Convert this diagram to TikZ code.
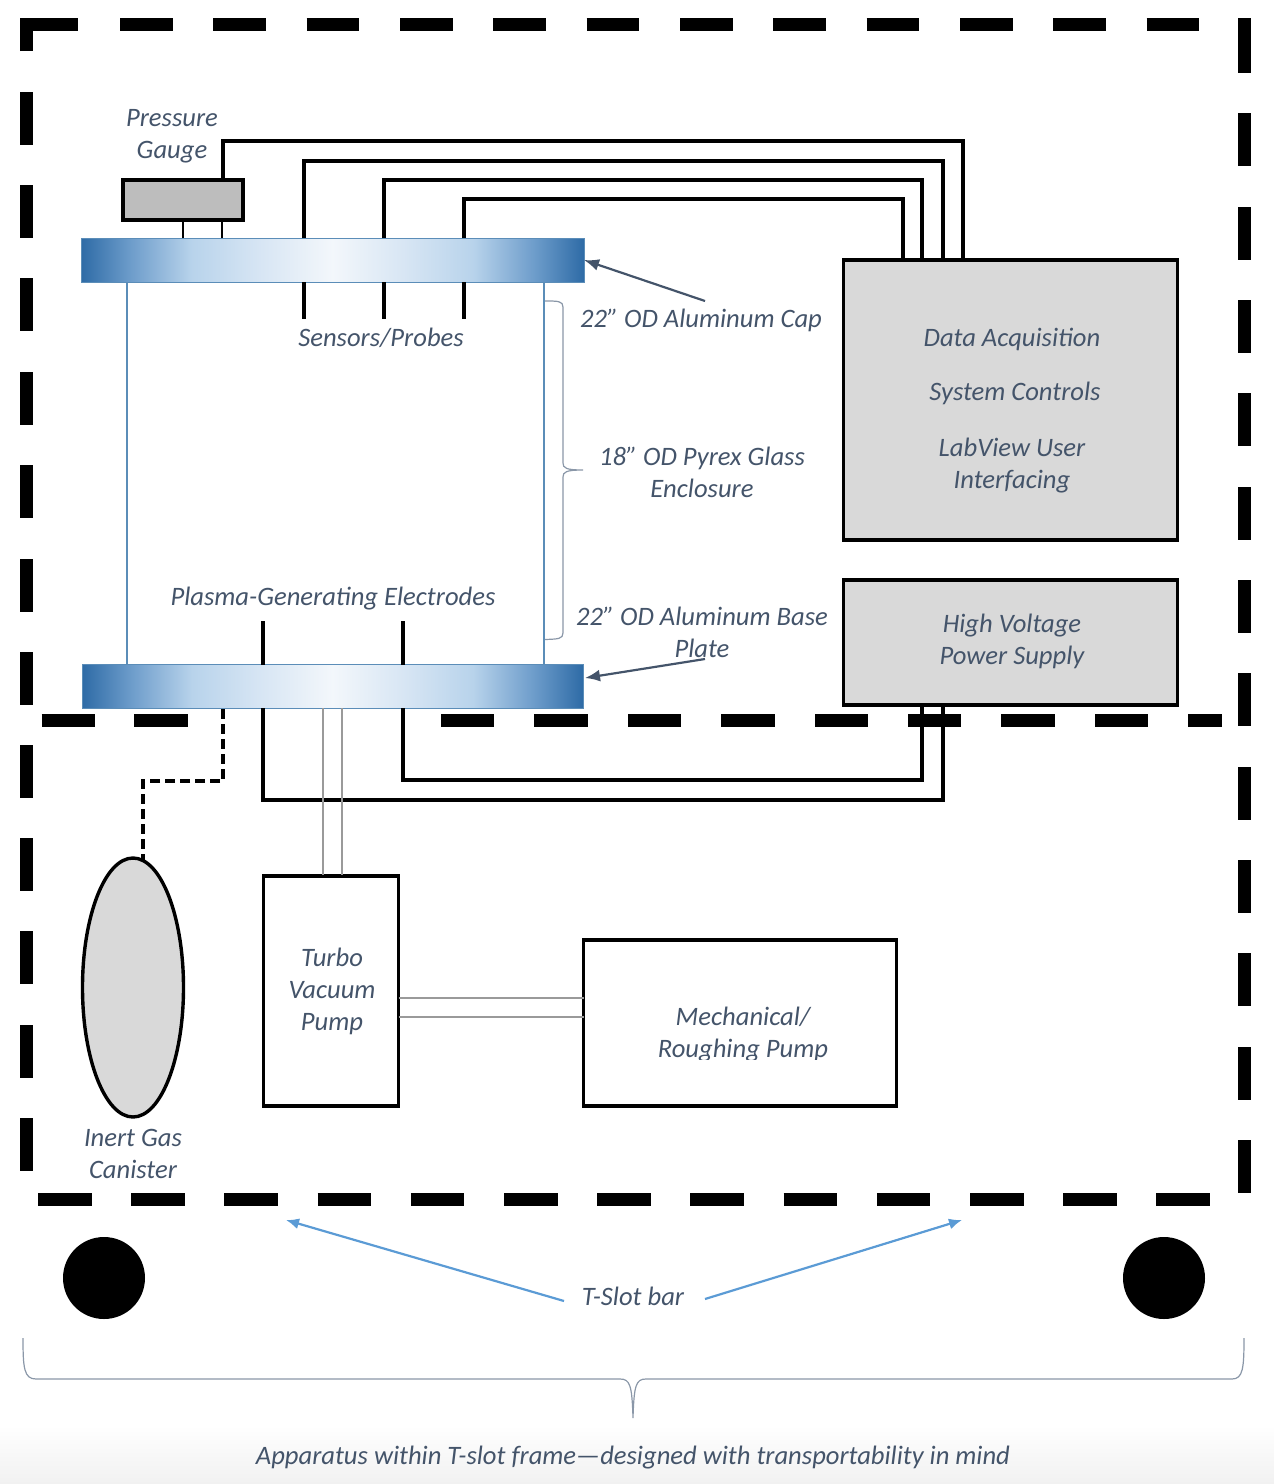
\documentclass[tikz,border=0pt]{standalone}
\usepackage{fontspec}
\setmainfont{Carlito}
\usetikzlibrary{shapes.geometric,arrows.meta}
\definecolor{slate}{HTML}{44546A}
\definecolor{plateEdge}{HTML}{2E6BA6}
\definecolor{plateA}{HTML}{6E9DCB}
\definecolor{plateMid}{HTML}{B8D3EB}
\definecolor{plateB}{HTML}{D8E6F4}
\definecolor{plateCore}{HTML}{F3F7FB}
\definecolor{glass}{HTML}{5B8DB8}
\definecolor{skyarrow}{HTML}{5B9BD5}
\definecolor{boxgray}{HTML}{D9D9D9}
\definecolor{gaugegray}{HTML}{BDBDBD}
\definecolor{tube}{HTML}{9A9A9A}
\definecolor{bracegray}{HTML}{8A97A8}
\definecolor{fadegray}{HTML}{F1F1F1}
\pgfdeclarehorizontalshading{plateshade}{100bp}{color(0bp)=(plateEdge); color(25bp)=(plateEdge); color(30bp)=(plateA); color(36bp)=(plateMid); color(43bp)=(plateB); color(50bp)=(plateCore); color(57bp)=(plateB); color(64bp)=(plateMid); color(70bp)=(plateA); color(75bp)=(plateEdge); color(100bp)=(plateEdge)}
\tikzset{
  x=1pt,y=-1pt,
  framebar/.style={line width=13pt,black,line cap=butt,miter limit=10},
  wire/.style={line width=3.4pt,black,line join=miter},
  thinwire/.style={line width=2pt,black},
  tubeline/.style={line width=2pt,tube},
  glassline/.style={line width=2pt,glass},
  box/.style={draw=black,line width=3.4pt,inner sep=0pt,outer sep=0pt},
  plate/.style={draw=glass,line width=1pt,shading=plateshade,inner sep=0pt,outer sep=0pt,minimum height=44pt},
  lbl/.style={font=\fontsize{26.6}{30}\selectfont\itshape,text=slate,inner sep=0pt,text height=22pt,text depth=6pt,anchor=center},
  callout/.style={line width=2.2pt,slate,-{Latex[length=15pt,width=12pt]}},
  skycall/.style={line width=2.2pt,skyarrow,-{Latex[length=13pt,width=11pt]}},
  bracket/.style={line width=1.2pt,bracegray},
}
\begin{document}
\begin{tikzpicture}
\useasboundingbox (0,0) rectangle (1274,1484);
\shade[top color=white,bottom color=fadegray,draw=none] (0,1425) rectangle (1274,1484);

% frame: T-slot bars
\draw[framebar] (26,51) -- (26,24) -- (78,24);
\foreach \a in {120,213.3,306.6,400,493.3,586.6,680,773.3,866.6,960,1053.3,1146.6}
  \draw[framebar] (\a,24) -- ++(52.5,0);
\foreach \a in {92,185,278,372,465,559,652,745,838,931,1025,1118}
  \draw[framebar] (26,\a) -- ++(0,53);
\foreach \a in {113,207,300,393,487,580,673,767,860,953,1047,1140}
  \draw[framebar] (1244,\a) -- ++(0,52.5);
\draw[framebar] (1244,18) -- (1244,73);
\foreach \a/\b in {41.5/95,134/188,441/494,534/588,628/681,721/775,815/868,908/961,1001/1055,1095/1148,1188/1222}
  \draw[framebar] (\a,720) -- (\b,720);
\foreach \a in {38,131.2,224.4,317.6,410.8,504,597.2,690.4,783.6,876.8,970,1063.2,1156.4}
  \draw[framebar] (\a,1199.5) -- ++(53.5,0);

% boxes and plates
\node[plate,minimum width=503pt] (cap) at (332.5,260) {};
\node[plate,minimum width=501pt] (base) at (332.5,686.5) {};
\node[box,fill=gaugegray,minimum width=120pt,minimum height=40pt] (gauge) at (183,200) {};
\node[box,fill=boxgray,minimum width=334pt,minimum height=280pt] (daq) at (1010.5,400) {};
\node[box,fill=boxgray,minimum width=334pt,minimum height=125pt] (hv) at (1010.5,642.5) {};
\node[box,minimum width=135pt,minimum height=230pt] (turbo) at (331,991) {};
\node[box,minimum width=313pt,minimum height=166pt] (mech) at (740,1023) {};
\node[box,fill=boxgray,ellipse,minimum width=101pt,minimum height=259pt] (canister) at (133,987.5) {};
\node[circle,fill=black,inner sep=0pt,minimum size=82pt] (wheelL) at (104,1278) {};
\node[circle,fill=black,inner sep=0pt,minimum size=82pt] (wheelR) at (1164,1278) {};

% glass enclosure
\draw[glassline] (cap.south -| 127,0) -- (base.north -| 127,0);
\draw[glassline] (cap.south -| 544,0) -- (base.north -| 544,0);

% port coordinates
\coordinate (gW) at (223,180);
\coordinate (pA) at (304,238);
\coordinate (pB) at (384,238);
\coordinate (pC) at (464,238);
\coordinate (dW) at (963,260);
\coordinate (dA) at (943,260);
\coordinate (dB) at (922,260);
\coordinate (dC) at (903,260);
\coordinate (tipA) at (304,319);
\coordinate (tipB) at (384,319);
\coordinate (tipC) at (464,319);
\coordinate (eA) at (263,621);
\coordinate (eB) at (403,621);
\coordinate (eAb) at (263,708);
\coordinate (eBb) at (403,708);
\coordinate (hA) at (943,705);
\coordinate (hB) at (922,705);

% data wires
\draw[wire] (gW) -- (223,141) -- (963,141) -- (dW);
\draw[wire] (pA) -- (304,161) -- (943,161) -- (dA);
\draw[wire] (pB) -- (384,180) -- (922,180) -- (dB);
\draw[wire] (pC) -- (464,199) -- (903,199) -- (dC);
\draw[wire] (304,282) -- (tipA);
\draw[wire] (384,282) -- (tipB);
\draw[wire] (464,282) -- (tipC);
\draw[thinwire] (183,220) -- (183,238);
\draw[thinwire] (222,220) -- (222,238);

% electrodes
\draw[wire] (eA) -- (263,665);
\draw[wire] (eB) -- (403,665);
\draw[wire] (eAb) -- (263,800) -- (943,800) -- (hA);
\draw[wire] (eBb) -- (403,780) -- (922,780) -- (hB);

% gas line
\draw[line width=3.2pt,black,dash pattern=on 10pt off 5pt] (223,709) -- (223,781) -- (143,781) -- (143,860);

% vacuum tubes
\draw[tubeline] (323,708) -- (323,875);
\draw[tubeline] (342,708) -- (342,875);
\draw[tubeline] (turbo.east |- 0,998) -- (mech.west |- 0,998);
\draw[tubeline] (turbo.east |- 0,1017) -- (mech.west |- 0,1017);

% brace (pyrex)
\draw[bracket] (545,301) .. controls (558,301) and (563,301) .. (563,307) -- (563,463)
  .. controls (563,468) and (566,470) .. (583,470)
  .. controls (566,470) and (563,472) .. (563,477) -- (563,633)
  .. controls (563,639) and (558,639) .. (545,639.5);

% big brace
\draw[bracket] (23,1338) .. controls (23,1368) and (24,1379) .. (36,1379) -- (620,1379)
  .. controls (630,1379) and (632,1385) .. (633,1418)
  .. controls (634,1385) and (636,1379) .. (646,1379) -- (1232,1379)
  .. controls (1243,1379) and (1244,1368) .. (1244,1338);

% callouts
\coordinate (capTail) at (705,301);
\coordinate (baseTail) at (705,659);
\coordinate (slotL) at (286,1220);
\coordinate (slotR) at (962,1220);
\draw[callout] (capTail) -- (cap.east);
\draw[callout] (baseTail) -- (585,678);

% labels
\node[lbl] (t1) at (172,118) {Pressure};
\node[lbl] (t2) at (172,150) {Gauge};
\node[lbl] (t3) at (381,338) {Sensors/Probes};
\node[lbl] (t4) at (701,319) {22” OD Aluminum Cap};
\node[lbl] (t5) at (702,457) {18” OD Pyrex Glass};
\node[lbl] (t6) at (702,489) {Enclosure};
\node[lbl] (t7) at (702,617) {22” OD Aluminum Base};
\node[lbl] (t8) at (702,649) {Plate};
\node[lbl] (t9) at (333,597) {Plasma-Generating Electrodes};
\node[lbl] (t10) at (1012,338) {Data Acquisition};
\node[lbl] (t11) at (1015,392) {System Controls};
\node[lbl] (t12) at (1012,448) {LabView User};
\node[lbl] (t13) at (1012,480) {Interfacing};
\node[lbl] (t14) at (1012,624) {High Voltage};
\node[lbl] (t15) at (1012,656) {Power Supply};
\node[lbl] (t16) at (332,958) {Turbo};
\node[lbl] (t17) at (332,990) {Vacuum};
\node[lbl] (t18) at (332,1022) {Pump};
\node[lbl] (t19) at (743,1017) {Mechanical/};
\begin{scope}
\clip (640,1030) rectangle (850,1059);
\node[lbl] (t20) at (743,1049) {Roughing Pump};
\end{scope}
\node[lbl] (t21) at (133,1138) {Inert Gas};
\node[lbl] (t22) at (133,1170) {Canister};
\node[lbl] (slot) at (633,1297) {T-Slot bar};
\node[lbl] (t24) at (633,1456) {Apparatus within T-slot frame—designed with transportability in mind};
\draw[skycall] (564,1301) -- (slotL);
\draw[skycall] (705,1299) -- (slotR);
\end{tikzpicture}
\end{document}
